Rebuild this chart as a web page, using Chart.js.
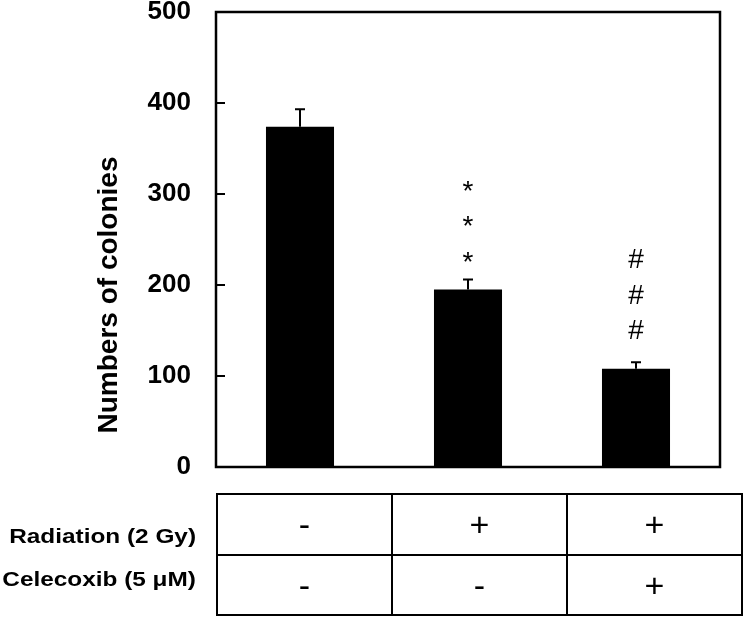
<!DOCTYPE html>
<html>
<head>
<meta charset="utf-8">
<script src="https://cdn.jsdelivr.net/npm/chart.js@4"></script>
<style>
  html, body { margin: 0; padding: 0; background: #fff; }
  #wrap { position: relative; width: 745px; height: 617px; font-family: "Liberation Sans", Arial, sans-serif; }
  #chart { position: absolute; left: 0; top: 0; }
  #ytitle {
    position: absolute; left: -42px; top: 280px; width: 300px; height: 30px;
    line-height: 30px; text-align: center; font-weight: bold; font-size: 28px;
    transform: rotate(-90deg); transform-origin: 150px 15px; white-space: nowrap;
  }
  .rowlabel {
    position: absolute; right: 549px; font-weight: bold; font-size: 21px;
    white-space: nowrap; transform: scaleX(1.16); transform-origin: right center;
    line-height: 24px;
  }
  #cond {
    position: absolute; left: 216px; top: 493px; border-collapse: collapse;
  }
  #cond td {
    border: 2px solid #000; width: 173px; text-align: center;
    font-size: 34px; padding: 0; color: #000;
  }
  #cond tr:first-child td { height: 59px; }
  #cond tr:last-child td { height: 58px; }
</style>
</head>
<body>
<div id="wrap">
  <canvas id="chart" width="745" height="617"></canvas>
  <div id="ytitle">Numbers of colonies</div>
  <div class="rowlabel" style="top:524px">Radiation (2 Gy)</div>
  <div class="rowlabel" style="top:567px">Celecoxib (5 μM)</div>
  <table id="cond"></table>
</div>
<script>
// values
const groups = ["Control", "Radiation", "Radiation + Celecoxib"];
const colonies = [374, 195, 108];
const sem = [19, 11, 7];
const marks = ["", "*", "#"];
const radiation = ["-", "+", "+"];
const celecoxib = ["-", "-", "+"];
const yMax = 500;
const yStep = 100;

// condition table under the plot
const tbl = document.getElementById("cond");
[radiation, celecoxib].forEach((row) => {
    const tr = document.createElement("tr");
    row.forEach((v) => {
        const td = document.createElement("td");
        td.textContent = v;
        tr.appendChild(td);
    });
    tbl.appendChild(tr);
});

// error bars, significance marks, inner ticks and frame
const extras = {
    id: "extras",
    afterDatasetsDraw(chart) {
        const { ctx, chartArea: a } = chart;
        const xs = chart.scales.x, ys = chart.scales.y;
        ctx.save();
        ctx.strokeStyle = "#000";
        ctx.lineWidth = 2;
        colonies.forEach((v, i) => {
            const x = xs.getPixelForValue(i);
            const y0 = ys.getPixelForValue(v);
            const y1 = ys.getPixelForValue(v + sem[i]);
            ctx.beginPath();
            ctx.moveTo(x, y0);
            ctx.lineTo(x, y1);
            ctx.moveTo(x - 5, y1);
            ctx.lineTo(x + 5, y1);
            ctx.stroke();

            if (marks[i]) {
                ctx.fillStyle = "#000";
                ctx.font = "28px 'Liberation Sans', Arial, sans-serif";
                ctx.textAlign = "center";
                ctx.textBaseline = "alphabetic";
                const gap = marks[i] === "*" ? 9 : 23;
                for (let k = 0; k < 3; k++) {
                    ctx.fillText(marks[i], x, y1 - gap - k * 35.5);
                }
            }
        });

        // ticks pointing into the plot
        ys.ticks.forEach((t) => {
            const y = ys.getPixelForValue(t.value);
            ctx.beginPath();
            ctx.moveTo(a.left, y);
            ctx.lineTo(a.left + 9, y);
            ctx.stroke();
        });

        ctx.lineWidth = 2.5;
        ctx.strokeRect(a.left, a.top, a.right - a.left, a.bottom - a.top);
        ctx.restore();
    },
};

new Chart(document.getElementById("chart"), {
    type: "bar",
    data: {
        labels: groups,
        datasets: [
            {
                data: colonies,
                backgroundColor: "#000",
                borderWidth: 0,
                categoryPercentage: 1,
                barPercentage: 0.405,
            },
        ],
    },
    options: {
        responsive: false,
        animation: false,
        layout: { padding: { left: 0, top: 12, right: 25, bottom: 150 } },
        plugins: { legend: { display: false }, tooltip: { enabled: false } },
        scales: {
            x: { display: false },
            y: {
                min: 0,
                max: yMax,
                grid: { display: false, drawTicks: false },
                border: { display: false },
                ticks: {
                    stepSize: yStep,
                    padding: 25,
                    color: "#000",
                    font: { family: "'Liberation Sans', Arial, sans-serif", size: 26, weight: "bold" },
                },
                afterFit(scale) {
                    scale.width = 216;
                    scale.paddingTop = 0;
                    scale.paddingBottom = 0;
                },
            },
        },
    },
    plugins: [extras],
});
</script>
</body>
</html>
